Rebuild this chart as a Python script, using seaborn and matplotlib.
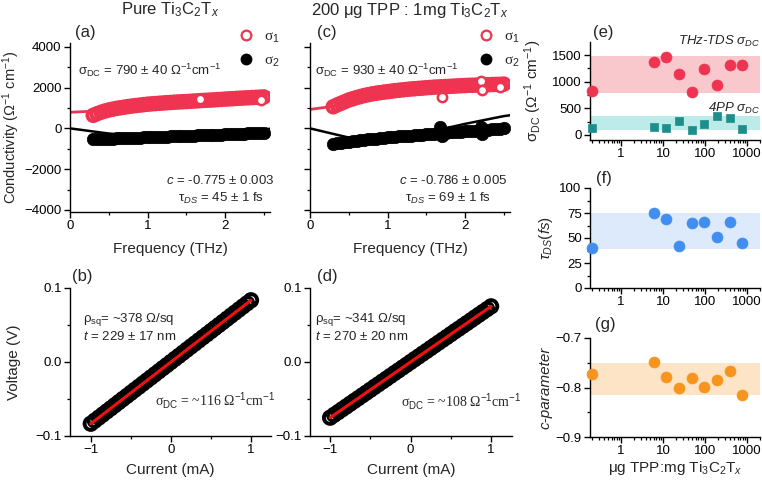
import numpy as np
import pandas as pd
import matplotlib
matplotlib.use("Agg")
import matplotlib.pyplot as plt
import seaborn as sns
from matplotlib.lines import Line2D
from matplotlib.ticker import MultipleLocator, LogLocator, NullFormatter

# ---------------- data ----------------
freq = [0.30, 0.35, 0.40, 0.45, 0.50, 0.55, 0.60, 0.65, 0.70, 0.75, 0.80, 0.85, 0.90, 0.95, 1.00,
        1.05, 1.10, 1.15, 1.20, 1.25, 1.30, 1.35, 1.40, 1.45, 1.50, 1.55, 1.60, 1.65, 1.70, 1.75,
        1.80, 1.85, 1.90, 1.95, 2.00, 2.05, 2.10, 2.15, 2.20, 2.25, 2.30, 2.35, 2.40, 2.45, 2.50]
a_sigma1 = [640, 720, 790, 850, 900, 940, 980, 1010, 1040, 1070, 1095, 1120, 1140, 1165, 1185,
            1200, 1215, 1230, 1245, 1260, 1270, 1285, 1295, 1305, 1315, 1325, 1340, 1350, 1365, 1375,
            1385, 1395, 1410, 1420, 1435, 1445, 1455, 1470, 1480, 1490, 1500, 1510, 1520, 1530, 1540]
a_sigma2 = [-540, -535, -530, -525, -515, -505, -495, -490, -482, -475, -468, -460, -452, -445, -438,
            -430, -425, -418, -410, -405, -398, -390, -383, -376, -370, -362, -355, -348, -340, -333,
            -325, -318, -310, -302, -295, -287, -280, -272, -265, -257, -248, -240, -230, -220, -210]
c_sigma1 = [1060, 1150, 1230, 1310, 1390, 1450, 1510, 1560, 1610, 1650, 1690, 1720, 1750, 1775, 1800,
            1825, 1850, 1870, 1890, 1910, 1930, 1945, 1960, 1975, 1990, 2005, 2020, 2030, 2040, 2050,
            2060, 2070, 2080, 2090, 2100, 2110, 2115, 2120, 2130, 2135, 2140, 2150, 2155, 2160, 2170]
c_sigma2 = [-770, -740, -710, -680, -650, -625, -600, -580, -560, -540, -520, -500, -480, -460, -440,
            -425, -410, -395, -380, -365, -350, -335, -320, -305, -290, -275, -260, -245, -230, -215,
            -200, -190, -180, -165, -150, -135, -120, -105, -90, -75, -60, -45, -30, -15, 0]

# isolated points standing out of the bands
a_out_f = [1.68, 2.47]
a_out_s1 = [1450, 1390]
c_out_f = [1.70, 2.20, 2.22, 2.45]
c_out_s1 = [1560, 2330, 1900, 2050]
c_out2_f = [1.68, 1.70, 2.20, 2.22]
c_out_s2 = [80, -380, 60, -300]

# Drude-Smith fit curves
fit_f = [0.0, 0.5, 1.0, 1.5, 2.0, 2.5, 2.6]
a_fit1 = [790, 879, 1104, 1373, 1598, 1736, 1752]
a_fit2 = [0, -253, -400, -396, -263, -55, -11]
c_fit1 = [930, 1181, 1693, 2080, 2205, 2125, 2100]
c_fit2 = [0, -451, -512, -208, 221, 601, 653]

# I-V data (four point probe)
current = [-1.00, -0.95, -0.90, -0.85, -0.80, -0.75, -0.70, -0.65, -0.60, -0.55, -0.50, -0.45, -0.40, -0.35,
           -0.30, -0.25, -0.20, -0.15, -0.10, -0.05, 0.00, 0.05, 0.10, 0.15, 0.20, 0.25, 0.30, 0.35, 0.40,
           0.45, 0.50, 0.55, 0.60, 0.65, 0.70, 0.75, 0.80, 0.85, 0.90, 0.95, 1.00]
b_voltage = [-0.0834, -0.0792, -0.0751, -0.0709, -0.0667, -0.0626, -0.0584, -0.0542, -0.0500, -0.0459,
             -0.0417, -0.0375, -0.0334, -0.0292, -0.0250, -0.0209, -0.0167, -0.0125, -0.0083, -0.0042,
             0.0000, 0.0042, 0.0083, 0.0125, 0.0167, 0.0209, 0.0250, 0.0292, 0.0334, 0.0375, 0.0417,
             0.0459, 0.0500, 0.0542, 0.0584, 0.0626, 0.0667, 0.0709, 0.0751, 0.0792, 0.0834]
d_voltage = [-0.0752, -0.0714, -0.0677, -0.0639, -0.0602, -0.0564, -0.0526, -0.0489, -0.0451, -0.0414,
             -0.0376, -0.0338, -0.0301, -0.0263, -0.0226, -0.0188, -0.0150, -0.0113, -0.0075, -0.0038,
             0.0000, 0.0038, 0.0075, 0.0113, 0.0150, 0.0188, 0.0226, 0.0263, 0.0301, 0.0338, 0.0376,
             0.0414, 0.0451, 0.0489, 0.0526, 0.0564, 0.0602, 0.0639, 0.0677, 0.0714, 0.0752]
iv_fit_i = [-1.0, 1.0]
b_fit_v = [-0.0834, 0.0834]
d_fit_v = [-0.0752, 0.0752]

# summary vs TPP loading
ratio = [0.2, 6, 12, 24, 48, 96, 192, 384, 768]
thz_sdc = [825, 1375, 1456, 1144, 800, 1238, 938, 1313, 1313]
thz_err = [45, 40, 70, 40, 30, 60, 40, 45, 70]
pp_sdc = [125, 156, 125, 270, 94, 200, 356, 325, 106]
tau_ds = [40.5, 75.2, 68.7, 42.2, 65.0, 66.0, 50.7, 66.0, 44.9]
c_param = [-0.773, -0.749, -0.778, -0.802, -0.781, -0.798, -0.785, -0.767, -0.816]
thz_band = [780, 1480]
pp_band = [94, 356]
tau_band = [39.5, 75.0]
c_band = [-0.816, -0.750]

# ---------------- style ----------------
sns.set_theme(style="ticks")
plt.rcParams["font.family"] = ["Liberation Sans", "DejaVu Sans"]
plt.rcParams["mathtext.fontset"] = "custom"
plt.rcParams["mathtext.rm"] = "Liberation Sans"
plt.rcParams["mathtext.it"] = "Liberation Sans:italic"
plt.rcParams["mathtext.bf"] = "Liberation Sans:bold"
plt.rcParams["axes.unicode_minus"] = True

RED = "#EE3450"
TEAL = "#1E8E8C"
BLUE = "#3F8EF0"
ORANGE = "#F7941D"

W, H = 762, 484
fig = plt.figure(figsize=(W / 100, H / 100), dpi=100)


def box(l, t, r, b):
    return [l / W, 1 - b / H, (r - l) / W, (b - t) / H]


def T(x, y, s, **kw):
    kw.setdefault("ha", "left")
    kw.setdefault("va", "center")
    kw.setdefault("size", 9.5)
    fig.text(x / W, 1 - y / H, s, **kw)


def style(ax):
    sns.despine(ax=ax)
    for sp in ("left", "bottom"):
        ax.spines[sp].set_linewidth(1.0)
        ax.spines[sp].set_color("black")
    ax.tick_params(which="major", direction="out", length=4, width=1, color="black",
                   labelsize=9.5, labelcolor="black", pad=2)
    ax.tick_params(which="minor", direction="out", length=2.2, width=0.9, color="black")
    ax.set_facecolor("white")


ax_a = fig.add_axes(box(70, 42.7, 270, 212))
ax_c = fig.add_axes(box(310, 42.7, 510, 212))
ax_b = fig.add_axes(box(70, 288, 271, 436))
ax_d = fig.add_axes(box(310, 288, 512, 436))
ax_e = fig.add_axes(box(590, 42, 760, 140))
ax_f = fig.add_axes(box(590, 188, 760, 288))
ax_g = fig.add_axes(box(590, 338, 760, 437))


def thz_panel(ax, s1, s2, f1, f2, of1, os1, of2, os2):
    dfd = pd.DataFrame({"f": freq, "s1": s1, "s2": s2})
    sns.lineplot(x=fit_f, y=f1, color=RED, lw=2.0, ax=ax, zorder=1)
    sns.scatterplot(x="f", y="s1", data=dfd, ax=ax, s=70, facecolor="none", edgecolor=RED,
                    linewidth=2.8, zorder=2)
    sns.scatterplot(x=of1, y=os1, ax=ax, s=45, facecolor="white", edgecolor=RED,
                    linewidth=1.8, zorder=3)
    sns.scatterplot(x="f", y="s2", data=dfd, ax=ax, s=80, color="black", edgecolor="black",
                    linewidth=0.5, zorder=2)
    if of2 is not None:
        sns.scatterplot(x=of2, y=os2, ax=ax, s=80, color="black", edgecolor="black",
                        linewidth=0.5, zorder=2)
    sns.lineplot(x=fit_f, y=f2, color="black", lw=1.8, ax=ax, zorder=4)
    ax.set_xlim(0, 2.58)
    ax.set_ylim(-4100, 4200)
    ax.xaxis.set_major_locator(MultipleLocator(1))
    ax.xaxis.set_minor_locator(MultipleLocator(0.5))
    ax.yaxis.set_major_locator(MultipleLocator(2000))
    ax.yaxis.set_minor_locator(MultipleLocator(1000))
    ax.set_xlabel("Frequency (THz)", size=11)
    ax.xaxis.set_label_coords(0.5, -0.18)
    style(ax)
    handles = [Line2D([], [], ls="none", marker="o", ms=7, mfc="none", mec=RED, mew=1.6),
               Line2D([], [], ls="none", marker="o", ms=7.5, mfc="black", mec="black")]
    ax.legend(handles, ["σ$_1$", "σ$_2$"], loc="upper left", bbox_to_anchor=(0.84, 1.075),
              frameon=False, handlelength=1.0, handletextpad=0.7, labelspacing=0.55,
              borderpad=0, borderaxespad=0, prop={"family": "Liberation Serif", "size": 11})


thz_panel(ax_a, a_sigma1, a_sigma2, a_fit1, a_fit2, a_out_f, a_out_s1, None, None)
thz_panel(ax_c, c_sigma1, c_sigma2, c_fit1, c_fit2, c_out_f, c_out_s1, c_out2_f, c_out_s2)
ax_a.set_ylabel("Conductivity (Ω$^{-1}$ cm$^{-1}$)", size=10.5)
ax_a.yaxis.set_label_coords(-0.24, 0.5)
ax_c.set_ylabel("")
ax_c.set_yticklabels([])


def iv_panel(ax, volt, fitv):
    dfi = pd.DataFrame({"I": current, "V": volt})
    sns.scatterplot(x="I", y="V", data=dfi, ax=ax, s=80, facecolor="none", edgecolor="black",
                    linewidth=2.8, zorder=2, clip_on=False)
    sns.lineplot(x=iv_fit_i, y=fitv, color="#F01010", lw=2.2, ax=ax, zorder=3)
    ax.set_ylim(-0.1, 0.1)
    ax.xaxis.set_major_locator(MultipleLocator(1))
    ax.xaxis.set_minor_locator(MultipleLocator(0.5))
    ax.yaxis.set_major_locator(MultipleLocator(0.1))
    ax.yaxis.set_minor_locator(MultipleLocator(0.05))
    ax.set_xlabel("Current (mA)", size=11)
    ax.xaxis.set_label_coords(0.5, -0.18)
    style(ax)


iv_panel(ax_b, b_voltage, b_fit_v)
iv_panel(ax_d, d_voltage, d_fit_v)
ax_b.set_xlim(-1.26, 1.25)
ax_d.set_xlim(-1.25, 1.26)
ax_b.set_ylabel("Voltage (V)", size=11)
ax_b.yaxis.set_label_coords(-0.245, 0.5)
ax_d.set_ylabel("")

# ---- right column ----
dfr = pd.DataFrame({"r": ratio, "thz": thz_sdc, "err": thz_err, "pp": pp_sdc,
                    "tau": tau_ds, "c": c_param})

ax_e.axhspan(thz_band[0], thz_band[1], color="#F8C8CC", lw=0, zorder=0)
ax_e.axhspan(pp_band[0], pp_band[1], color="#BDEBE9", lw=0, zorder=0)
ax_e.errorbar(dfr["r"], dfr["thz"], yerr=dfr["err"], fmt="none", ecolor=RED, elinewidth=1.2,
              capsize=2, zorder=2, clip_on=False)
sns.scatterplot(x="r", y="thz", data=dfr, ax=ax_e, s=62, color=RED, edgecolor=RED, linewidth=0.5,
                zorder=3, clip_on=False)
sns.scatterplot(x="r", y="pp", data=dfr, ax=ax_e, s=40, marker="s", color=TEAL, edgecolor=TEAL,
                linewidth=0.5, zorder=3, clip_on=False)
ax_e.set_ylim(-95, 1745)
ax_e.yaxis.set_major_locator(MultipleLocator(500))
ax_e.yaxis.set_minor_locator(MultipleLocator(250))
ax_e.set_ylabel("σ$_{\\mathrm{DC}}$ (Ω$^{-1}$ cm$^{-1}$)", size=11)
ax_e.yaxis.set_label_coords(-0.27, 0.5)

ax_f.axhspan(tau_band[0], tau_band[1], color="#DCEAFC", lw=0, zorder=0)
sns.scatterplot(x="r", y="tau", data=dfr, ax=ax_f, s=62, color=BLUE, edgecolor=BLUE, linewidth=0.5,
                zorder=3, clip_on=False)
ax_f.set_ylim(0, 100)
ax_f.yaxis.set_major_locator(MultipleLocator(25))
ax_f.yaxis.set_minor_locator(MultipleLocator(12.5))
ax_f.set_ylabel("$\\tau_{DS}(fs)$", size=11)
ax_f.yaxis.set_label_coords(-0.205, 0.5)

ax_g.axhspan(c_band[0], c_band[1], color="#FDE4C6", lw=0, zorder=0)
sns.scatterplot(x="r", y="c", data=dfr, ax=ax_g, s=62, color=ORANGE, edgecolor=ORANGE, linewidth=0.5,
                zorder=3, clip_on=False)
ax_g.set_ylim(-0.9, -0.7)
ax_g.yaxis.set_major_locator(MultipleLocator(0.1))
ax_g.yaxis.set_minor_locator(MultipleLocator(0.05))
ax_g.set_ylabel("c-parameter", size=11, style="italic")
ax_g.yaxis.set_label_coords(-0.22, 0.5)
ax_g.set_xlabel("μg TPP:mg Ti$_3$C$_2$T$_x$", size=11)
ax_g.xaxis.set_label_coords(0.5, -0.225)

for ax in (ax_e, ax_f, ax_g):
    ax.set_xscale("log")
    ax.set_xlim(0.183, 2040)
    ax.set_xticks([1, 10, 100, 1000])
    ax.set_xticklabels(["1", "10", "100", "1000"])
    ax.xaxis.set_minor_locator(LogLocator(base=10, subs=np.arange(2, 10) * 1.0, numticks=20))
    ax.xaxis.set_minor_formatter(NullFormatter())
    style(ax)
ax_e.set_xlabel("")
ax_f.set_xlabel("")

# ---------------- texts ----------------
T(170, 10, "Pure Ti$_3$C$_2$T$_x$", ha="center", size=12)
T(410, 10, "200 μg TPP : 1mg Ti$_3$C$_2$T$_x$", ha="center", size=12)
for x, y, s in [(75, 32, "(a)"), (317, 32, "(c)"), (593, 32, "(e)"), (72, 277, "(b)"),
                (317, 277, "(d)"), (596, 178, "(f)"), (595, 325, "(g)")]:
    T(x, y, s, size=12)

T(78, 70, "σ$_{\\mathrm{DC}}$ = 790 ± 40 Ω$^{-1}$cm$^{-1}$")
T(220, 180, "$c$ = -0.775 ± 0.003", ha="center")
T(221, 198, "τ$_{DS}$ = 45 ± 1 fs", ha="center")
T(315, 70, "σ$_{\\mathrm{DC}}$ = 930 ± 40 Ω$^{-1}$cm$^{-1}$")
T(453, 180, "$c$ = -0.786 ± 0.005", ha="center")
T(448, 198, "τ$_{DS}$ = 69 ± 1 fs", ha="center")

T(83, 319, "ρ$_{\\mathrm{sq}}$= ~378 Ω/sq")
T(83, 337, "$t$ = 229 ± 17 nm")
T(155, 401, "σ$_{\\mathrm{DC}}$ = ~116 Ω$^{-1}$cm$^{-1}$", size=10, family=["Liberation Serif", "DejaVu Serif"])
T(315, 319, "ρ$_{\\mathrm{sq}}$= ~341 Ω/sq")
T(315, 337, "$t$ = 270 ± 20 nm")
T(401, 402, "σ$_{\\mathrm{DC}}$ = ~108 Ω$^{-1}$cm$^{-1}$", size=10, family=["Liberation Serif", "DejaVu Serif"])

T(760, 41, "THz-TDS σ$_{DC}$", ha="right", style="italic")
T(760, 108, "4PP σ$_{DC}$", ha="right", style="italic")

fig.savefig("out.png", dpi=100, facecolor="white")
